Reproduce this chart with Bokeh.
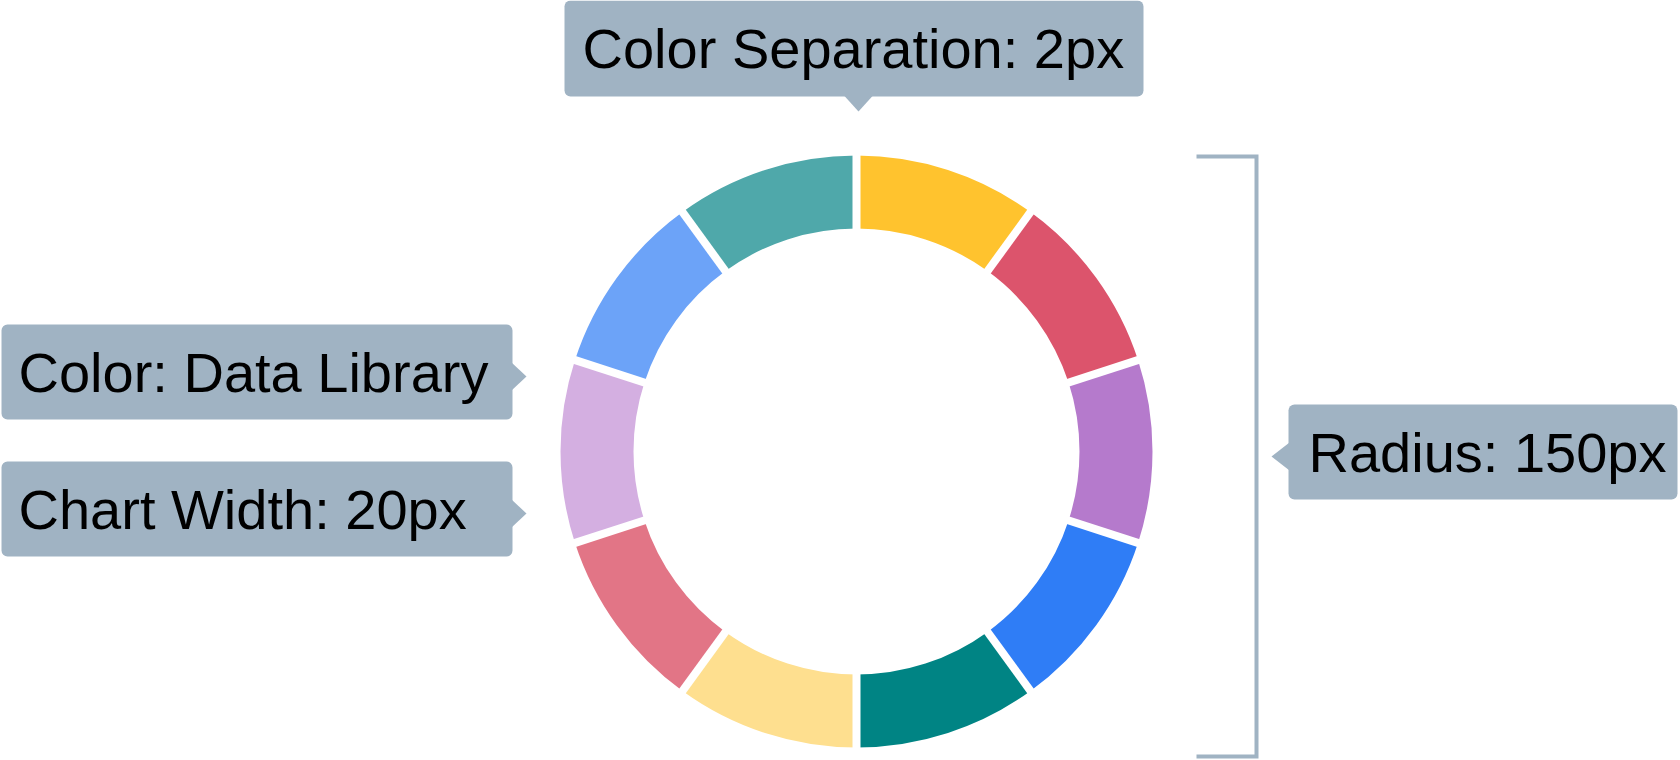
import math
from bokeh.plotting import figure
from bokeh.models import Range1d
from bokeh.core.properties import value
from bokeh.embed import file_html
from bokeh.resources import INLINE

# ---- data ----
segment_values = [1, 1, 1, 1, 1, 1, 1, 1, 1, 1]
segment_colors = ["#FFC32E", "#DC546C", "#B57ACC", "#2F7DF6", "#008484",
                  "#FEDF8F", "#E27586", "#D4AFE1", "#6CA3F8", "#4FA8AA"]
callout_texts = ["Color Separation: 2px", "Color: Data Library",
                 "Chart Width: 20px", "Radius: 150px"]

# ---- layout (screen pixels, y measured downward) ----
W, H = 1680, 760
CX, CY = 856, 451
R_OUT, R_IN = 296, 223
GAP = 8
BOX_COLOR = "#A0B3C3"

# box: left, top, right, bottom ; pointer side ; text left x
callout_boxes = [
    (564, 0, 1143, 96),
    (1, 324, 512, 419),
    (1, 461, 512, 556),
    (1288, 404, 1677, 499),
]
callout_sides = ["bottom", "right", "right", "left"]
callout_text_x = [582, 18, 18, 1308]


def Y(y):
    return H - y


p = figure(width=W, height=H, output_backend="svg", toolbar_location=None,
           x_range=Range1d(0, W), y_range=Range1d(0, H), min_border=0,
           background_fill_color="white", border_fill_color="white")
p.xaxis.visible = False
p.yaxis.visible = False
p.grid.visible = False
p.outline_line_color = None

# ---- donut ----
total = sum(segment_values)
cum = 0.0
starts, ends, boundaries = [], [], []
for v in segment_values:
    a0 = cum / total * 2 * math.pi
    cum += v
    a1 = cum / total * 2 * math.pi
    boundaries.append(a0)
    starts.append(math.pi / 2 - a1)
    ends.append(math.pi / 2 - a0)

n = len(segment_values)
p.annular_wedge(x=[CX] * n, y=[Y(CY)] * n,
                inner_radius=R_IN, outer_radius=R_OUT,
                start_angle=starts, end_angle=ends, direction="anticlock",
                fill_color=segment_colors, line_color=None)

# white separators
x0 = [CX + (R_IN - 3) * math.sin(b) for b in boundaries]
y0 = [Y(CY) + (R_IN - 3) * math.cos(b) for b in boundaries]
x1 = [CX + (R_OUT + 3) * math.sin(b) for b in boundaries]
y1 = [Y(CY) + (R_OUT + 3) * math.cos(b) for b in boundaries]
p.segment(x0=x0, y0=y0, x1=x1, y1=y1, line_color="white", line_width=GAP)

# ---- bracket ----
p.line(x=[1196, 1256, 1256, 1196], y=[Y(156), Y(156), Y(756), Y(756)],
       line_color=BOX_COLOR, line_width=4, line_join="miter")

# ---- callouts ----
L = [b[0] for b in callout_boxes]
R = [b[2] for b in callout_boxes]
T = [Y(b[1]) for b in callout_boxes]
B = [Y(b[3]) for b in callout_boxes]
p.quad(left=L, right=R, top=T, bottom=B, fill_color=BOX_COLOR,
       line_color=None, border_radius=6)

xs, ys = [], []
for (l, t, r, b), side in zip(callout_boxes, callout_sides):
    mx = (l + r) / 2 + 4.5
    my = (t + b) / 2 + 4.5
    if side == "bottom":
        xs.append([mx - 14.5, mx + 14.5, mx])
        ys.append([Y(b - 1), Y(b - 1), Y(b + 15)])
    elif side == "right":
        xs.append([r - 1, r - 1, r + 14])
        ys.append([Y(my - 14), Y(my + 14), Y(my)])
    else:
        xs.append([l + 1, l + 1, l - 17])
        ys.append([Y(my - 14), Y(my + 14), Y(my)])
p.patches(xs=xs, ys=ys, fill_color=BOX_COLOR, line_color=None)

text_y = [Y((b[1] + b[3]) / 2) for b in callout_boxes]
p.text(x=callout_text_x, y=text_y,
       text=callout_texts, text_font=value("Liberation Sans"),
       text_font_size="56px", text_color="black",
       text_align="left", text_baseline="middle")

open("out.html", "w").write(file_html(p, INLINE))
